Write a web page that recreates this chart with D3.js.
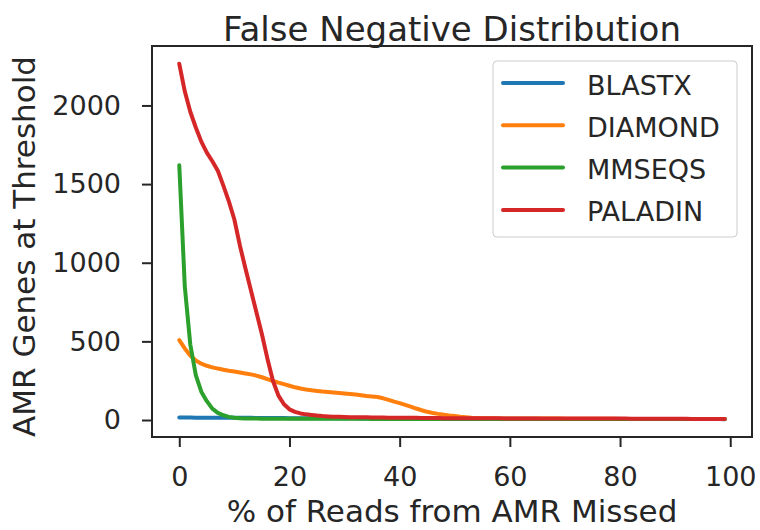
<!DOCTYPE html>
<html lang="en">
<head>
<meta charset="utf-8">
<title>False Negative Distribution</title>
<style>
body {
  margin: 0;
  background: white;
}
text {
  font-family: "DejaVu Sans", sans-serif;
  fill: #262626;
}
.axis line {
  stroke: #262626;
  stroke-width: 2;
}
.axis text {
  font-size: 27px;
}
</style>
</head>
<body>
<div id="chart"></div>
<script src="https://cdn.jsdelivr.net/npm/d3@7"></script>
<script>

// % of reads missed, 0..99
var percents = d3.range(0, 100);

var seriesNames = ["BLASTX", "DIAMOND", "MMSEQS", "PALADIN"];
var seriesColors = ["#1f77b4", "#ff7f0e", "#2ca02c", "#d62728"];

var blastx = [16,16,16,15,15,15,15,15,14,14,
  14,14,14,14,13,13,13,13,13,13,
  12,12,12,12,12,12,11,11,11,11,
  11,11,11,10,10,10,10,10,10,10,
  10,10,9,9,9,9,9,9,9,9,
  9,9,9,8,8,8,8,8,8,8,
  8,8,8,8,8,8,7,7,7,7,
  7,7,7,7,7,7,7,7,7,7,
  6,6,6,6,6,6,6,6,6,6,
  6,6,6,6,6,6,6,6,6,5];

var diamond = [508,455,410,378,358,345,335,327,320,313,
  308,302,296,290,282,272,260,248,238,228,
  218,208,200,194,189,185,181,178,175,172,
  169,166,162,158,153,150,146,138,128,117,
  107,96,85,73,62,52,45,39,34,29,
  25,21,18,15,13,12,11,11,10,10,
  10,10,10,9,9,9,9,9,9,9,
  8,8,8,8,8,8,8,8,8,8,
  7,7,7,7,7,7,7,7,7,7,
  7,7,6,6,6,6,6,6,6,6];

var mmseqs = [1620,850,480,285,180,120,72,45,30,20,
  14,11,10,9,9,8,8,8,8,8,
  8,8,8,8,8,8,8,8,8,8,
  8,8,8,8,8,7,7,7,7,7,
  7,7,7,7,7,7,7,7,7,7,
  7,7,7,7,7,6,6,6,6,6,
  6,6,6,6,6,6,6,6,6,6,
  6,6,6,6,6,6,6,6,6,6,
  6,6,6,6,6,6,6,6,6,6,
  6,6,6,6,6,6,6,6,6,6];

var paladin = [2265,2090,1960,1860,1770,1700,1645,1585,1490,1390,
  1275,1110,965,825,685,545,390,250,155,100,
  68,52,42,36,32,28,25,23,21,20,
  19,18,18,17,17,16,16,16,15,15,
  15,14,14,14,13,13,13,13,12,12,
  12,12,12,11,11,11,11,11,11,10,
  10,10,10,10,10,10,10,10,10,10,
  10,10,9,9,9,9,9,9,9,9,
  9,9,8,8,8,8,8,8,8,8,
  8,8,8,7,7,7,7,7,7,7];

var xTicks = [0, 20, 40, 60, 80, 100];
var yTicks = [0, 500, 1000, 1500, 2000];

var width = 760, height = 530;
var margin = {top: 46, right: 8, bottom: 93, left: 152};
var plotW = width - margin.left - margin.right;
var plotH = height - margin.top - margin.bottom;

var allSeries = [blastx, diamond, mmseqs, paladin];

// matplotlib style 5% padding around the data
function padded(lo, hi) {
  var pad = (hi - lo) * 0.05;
  return [lo - pad, hi + pad];
}

var yMin = d3.min(allSeries, function(s) { return d3.min(s); });
var yMax = d3.max(allSeries, function(s) { return d3.max(s); });

var x = d3.scaleLinear()
  .domain(padded(d3.min(percents), d3.max(percents)))
  .range([0, plotW]);

var y = d3.scaleLinear()
  .domain(padded(yMin, yMax))
  .range([plotH, 0]);

var svg = d3.select("#chart").append("svg")
  .attr("width", width)
  .attr("height", height);

var g = svg.append("g")
  .attr("transform", "translate(" + margin.left + "," + margin.top + ")");

var line = d3.line()
  .x(function(d, i) { return x(percents[i]); })
  .y(function(d) { return y(d); });

g.selectAll(".series")
  .data(allSeries)
  .enter().append("path")
  .attr("class", "series")
  .attr("d", line)
  .attr("fill", "none")
  .attr("stroke", function(d, i) { return seriesColors[i]; })
  .attr("stroke-width", 4)
  .attr("stroke-linejoin", "round")
  .attr("stroke-linecap", "round");

// axes
g.append("g")
  .attr("class", "axis")
  .attr("transform", "translate(0," + plotH + ")")
  .call(d3.axisBottom(x).tickValues(xTicks).tickFormat(d3.format("d"))
    .tickSize(10).tickSizeOuter(0).tickPadding(20));

g.append("g")
  .attr("class", "axis")
  .call(d3.axisLeft(y).tickValues(yTicks).tickFormat(d3.format("d"))
    .tickSize(10).tickSizeOuter(0).tickPadding(21));

g.selectAll(".axis .domain").remove();
g.selectAll(".axis text").attr("fill", "#262626");

// frame
g.append("rect")
  .attr("width", plotW)
  .attr("height", plotH)
  .attr("fill", "none")
  .attr("stroke", "#262626")
  .attr("stroke-width", 2);

// title and labels
svg.append("text")
  .attr("x", margin.left + plotW / 2)
  .attr("y", 41)
  .attr("text-anchor", "middle")
  .style("font-size", "34px")
  .text("False Negative Distribution");

svg.append("text")
  .attr("x", margin.left + plotW / 2)
  .attr("y", 522)
  .attr("text-anchor", "middle")
  .style("font-size", "31px")
  .text("% of Reads from AMR Missed");

svg.append("text")
  .attr("transform", "translate(35," + (margin.top + plotH / 2 + 5) + ") rotate(-90)")
  .attr("text-anchor", "middle")
  .style("font-size", "31px")
  .text("AMR Genes at Threshold");

// legend
var legend = svg.append("g")
  .attr("transform", "translate(493,61)");

legend.append("rect")
  .attr("width", 244)
  .attr("height", 176)
  .attr("rx", 4)
  .attr("fill", "white")
  .attr("fill-opacity", 0.8)
  .attr("stroke", "#cccccc")
  .attr("stroke-width", 1);

var items = legend.selectAll(".item")
  .data(seriesNames)
  .enter().append("g")
  .attr("class", "item")
  .attr("transform", function(d, i) { return "translate(0," + (22 + i * 42.3) + ")"; });

items.append("line")
  .attr("x1", 10)
  .attr("x2", 70)
  .attr("stroke", function(d, i) { return seriesColors[i]; })
  .attr("stroke-width", 4)
  .attr("stroke-linecap", "round");

items.append("text")
  .attr("x", 94)
  .attr("y", 11.5)
  .style("font-size", "27px")
  .text(function(d) { return d; });

</script>
</body>
</html>
